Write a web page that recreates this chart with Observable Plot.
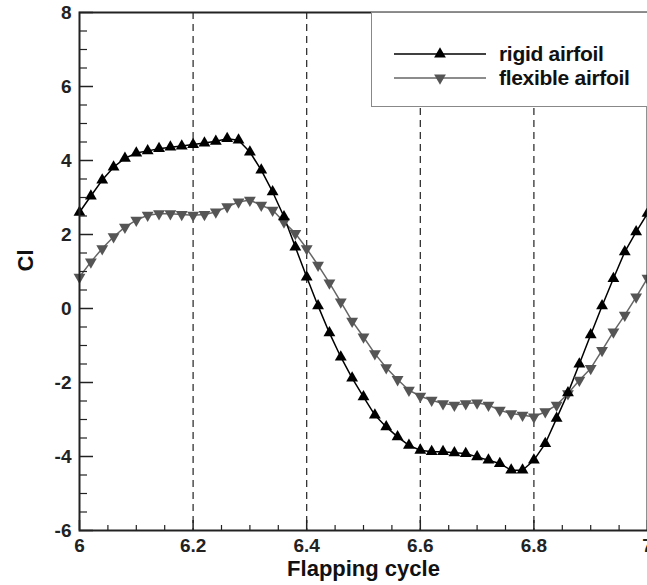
<!DOCTYPE html>
<html><head><meta charset="utf-8">
<script src="https://cdn.jsdelivr.net/npm/d3@7"></script>
<script src="https://cdn.jsdelivr.net/npm/@observablehq/plot@0.6"></script>
<style>
body{margin:0;background:#fff;font-family:"Liberation Sans",Arial,sans-serif;}
#wrap{position:relative;width:647px;height:585px;overflow:hidden;}
#legend{position:absolute;left:371px;top:12px;width:290px;height:95px;background:#fff;border:1px solid #888;box-sizing:border-box;}
.row{position:absolute;left:0;height:22px;display:flex;align-items:center;}
.row span{font-weight:bold;font-size:21px;color:#111;margin-left:12px;letter-spacing:-0.3px;}
</style></head><body><div id="wrap"></div>
<script>
const cycle = [6.00,6.02,6.04,6.06,6.08,6.10,6.12,6.14,6.16,6.18,6.20,6.22,6.24,6.26,6.28,6.30,6.32,6.34,6.36,6.38,6.40,6.42,6.44,6.46,6.48,6.50,6.52,6.54,6.56,6.58,6.60,6.62,6.64,6.66,6.68,6.70,6.72,6.74,6.76,6.78,6.80,6.82,6.84,6.86,6.88,6.90,6.92,6.94,6.96,6.98,7.00];
const rigid = [2.60,3.04,3.47,3.82,4.06,4.20,4.26,4.32,4.36,4.39,4.43,4.47,4.52,4.59,4.55,4.23,3.74,3.15,2.48,1.66,0.85,0.07,-0.66,-1.31,-1.88,-2.39,-2.88,-3.20,-3.47,-3.70,-3.83,-3.87,-3.87,-3.90,-3.92,-4.01,-4.10,-4.19,-4.37,-4.37,-4.10,-3.65,-2.97,-2.28,-1.50,-0.71,0.07,0.81,1.53,2.07,2.57];
const flexible = [0.85,1.26,1.62,1.94,2.20,2.39,2.52,2.56,2.56,2.54,2.52,2.54,2.61,2.75,2.88,2.93,2.79,2.66,2.34,2.03,1.62,1.17,0.69,0.18,-0.34,-0.77,-1.22,-1.60,-1.92,-2.21,-2.37,-2.48,-2.57,-2.61,-2.57,-2.55,-2.61,-2.75,-2.84,-2.88,-2.93,-2.79,-2.61,-2.30,-1.94,-1.62,-1.13,-0.63,-0.18,0.31,0.82];
const xMajor = [6,6.2,6.4,6.6,6.8,7];
const xMinor = [6.05,6.1,6.15,6.25,6.3,6.35,6.45,6.5,6.55,6.65,6.7,6.75,6.85,6.9,6.95];
const yMajor = [-6,-4,-2,0,2,4,6,8];
const yMinor = [-5.5,-5,-4.5,-3.5,-3,-2.5,-1.5,-1,-0.5,0.5,1,1.5,2.5,3,3.5,4.5,5,5.5,6.5,7,7.5];
const guides = [6.2,6.4,6.6,6.8];
const seriesNames = ["rigid airfoil","flexible airfoil"];
const xTitle = "Flapping cycle";
const yTitle = "Cl";

const rigidData = cycle.map((x,i)=>({x, y: rigid[i]}));
const flexData = cycle.map((x,i)=>({x, y: flexible[i]}));

const fontFamily = "Liberation Sans, Arial, sans-serif";
const fmt = d => String(+(+d).toFixed(1));
const chart = Plot.plot({
  width: 647, height: 585,
  marginLeft: 79, marginRight: 0, marginTop: 12, marginBottom: 55,
  style: {fontFamily, fontSize: "19px", fontWeight: "bold", color: "#222", background: "#fff"},
  x: {domain: [6,7]},
  y: {domain: [-6,8]},
  marks: [
    Plot.ruleX(guides, {stroke: "#222", strokeWidth: 1.2, strokeDasharray: "7,5"}),
    Plot.line(flexData, {x: "x", y: "y", stroke: "#666", strokeWidth: 1.5}),
    Plot.line(rigidData, {x: "x", y: "y", stroke: "#000", strokeWidth: 1.5}),
    Plot.dot(flexData, {x: "x", y: "y", symbol: "triangle", rotate: 180, r: 4.4, fill: "#555", stroke: "none"}),
    Plot.dot(rigidData, {x: "x", y: "y", symbol: "triangle", r: 4.4, fill: "#000", stroke: "none"}),
    Plot.axisY(yMajor, {tickSize: 14, dx: 14, fill: "none", label: null, strokeWidth: 1.5}),
    Plot.axisY(yMinor, {tickSize: 8, dx: 8, fill: "none", label: null, strokeWidth: 1.2}),
    Plot.axisY(yMajor, {tickSize: 0, tickPadding: 8, label: null, fontSize: 19, tickFormat: fmt}),
    Plot.axisX(xMajor, {tickSize: 10, dy: -10, fill: "none", label: null, strokeWidth: 1.5}),
    Plot.axisX(xMinor, {tickSize: 5, dy: -5, fill: "none", label: null, strokeWidth: 1.2}),
    Plot.axisX(xMajor, {tickSize: 0, tickPadding: 8, label: null, fontSize: 19, tickFormat: fmt}),
    Plot.frame({stroke: "#222", strokeWidth: 2}),
    Plot.text([xTitle], {frameAnchor: "bottom", lineAnchor: "bottom", dy: 45, fontSize: 22, fontWeight: "bold", fill: "#111"}),
    Plot.text([yTitle], {frameAnchor: "left", rotate: -90, lineAnchor: "middle", dx: -54, fontSize: 22, fontWeight: "bold", fill: "#111"})
  ]
});
const wrap = document.getElementById("wrap");
wrap.appendChild(chart);

// legend overlay
const legend = document.createElement("div");
legend.id = "legend";
const styles = [
  {color: "#000", marker: "#000", rot: 0},
  {color: "#666", marker: "#555", rot: 180}
];
seriesNames.forEach((name, i) => {
  const row = document.createElement("div");
  row.className = "row";
  row.style.top = (30 + i * 24) + "px";
  row.style.left = "22px";
  const s = styles[i];
  const sym = d3.symbol(d3.symbolTriangle, 60)();
  row.innerHTML = `<svg width="93" height="22"><line x1="0" x2="92" y1="11" y2="11" stroke="${s.color}" stroke-width="1.6"/><path d="${sym}" transform="translate(46,11) rotate(${s.rot})" fill="${s.marker}"/></svg><span>${name}</span>`;
  legend.appendChild(row);
});
wrap.appendChild(legend);
</script>
</body></html>
